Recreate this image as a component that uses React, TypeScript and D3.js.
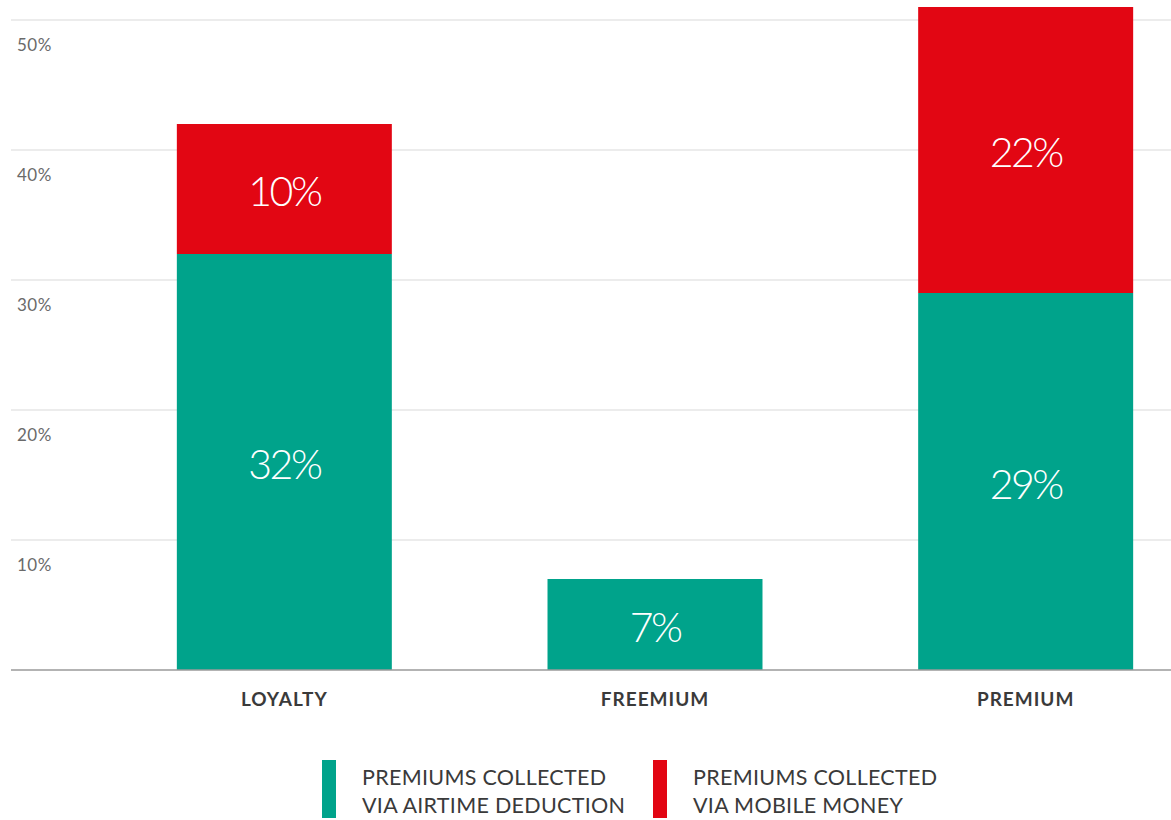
import React from "react";
import * as d3 from "d3";

const categories = ["LOYALTY", "FREEMIUM", "PREMIUM"];
const airtime = [32, 7, 29];
const mobileMoney = [10, 0, 22];
const yTicks = [10, 20, 30, 40, 50];
const legendItems = [
  { key: "airtime", lines: ["PREMIUMS COLLECTED", "VIA AIRTIME DEDUCTION"] },
  { key: "mobile", lines: ["PREMIUMS COLLECTED", "VIA MOBILE MONEY"] },
];

const W = 1171;
const H = 820;
const GREEN = "#00A38B";
const RED = "#E20613";
const FONT = "Lato, 'Open Sans', sans-serif";

export default function App() {
  const y = d3.scaleLinear().domain([0, 50]).range([670, 20]);
  const x = d3
    .scaleBand<string>()
    .domain(categories)
    .range([99, 1211])
    .paddingInner(0.42)
    .paddingOuter(0.21);

  const stack = d3
    .stack<any>()
    .keys(["airtime", "mobile"])(
      categories.map((c, i) => ({ cat: c, airtime: airtime[i], mobile: mobileMoney[i] }))
    );
  const colors: Record<string, string> = { airtime: GREEN, mobile: RED };

  return (
    <svg
      width={W}
      height={H}
      style={{ position: "absolute", left: 0, top: 0, display: "block", background: "#fff" }}
      fontFamily={FONT}
    >
      {yTicks.map((t) => (
        <g key={t}>
          <line x1={11} x2={W} y1={y(t)} y2={y(t)} stroke="#e6e6e6" strokeWidth={1.5} />
          <text x={17} y={y(t) + 31} fontSize={17} fill="#6a6a6a" style={{ letterSpacing: "0.5px" }}>
            {t}%
          </text>
        </g>
      ))}
      {stack.map((layer) =>
        layer.map((d, i) => {
          const v = d[1] - d[0];
          if (v <= 0) return null;
          const bx = x(categories[i])!;
          const top = y(d[1]);
          const bottom = y(d[0]);
          return (
            <g key={layer.key + i}>
              <rect x={bx} y={top} width={x.bandwidth()} height={bottom - top} fill={colors[layer.key]} />
              <text
                x={bx + x.bandwidth() / 2}
                y={(top + bottom) / 2 + 17}
                textAnchor="middle"
                fontSize={41}
                fontWeight={300}
                fill="#fff"
                style={{ letterSpacing: "-2.5px" }}
              >
                {v}%
              </text>
            </g>
          );
        })
      )}
      <line x1={11} x2={W} y1={y(0)} y2={y(0)} stroke="#9a9a9a" strokeWidth={1.5} />
      {categories.map((c) => (
        <text
          key={c}
          x={x(c)! + x.bandwidth() / 2}
          y={706}
          textAnchor="middle"
          fontSize={19}
          fontWeight={700}
          fill="#3a3a3a"
          style={{ letterSpacing: "1px" }}
        >
          {c}
        </text>
      ))}
      {legendItems.map((item, i) => {
        const lx = 322 + i * 331;
        return (
          <g key={item.key}>
            <rect x={lx} y={760} width={14} height={58} fill={colors[item.key]} />
            {item.lines.map((ln, j) => (
              <text
                key={j}
                x={lx + 40}
                y={785 + j * 28}
                fontSize={21.5}
                fill="#3a3a3a"
                style={{ letterSpacing: "0.3px" }}
              >
                {ln}
              </text>
            ))}
          </g>
        );
      })}
    </svg>
  );
}
